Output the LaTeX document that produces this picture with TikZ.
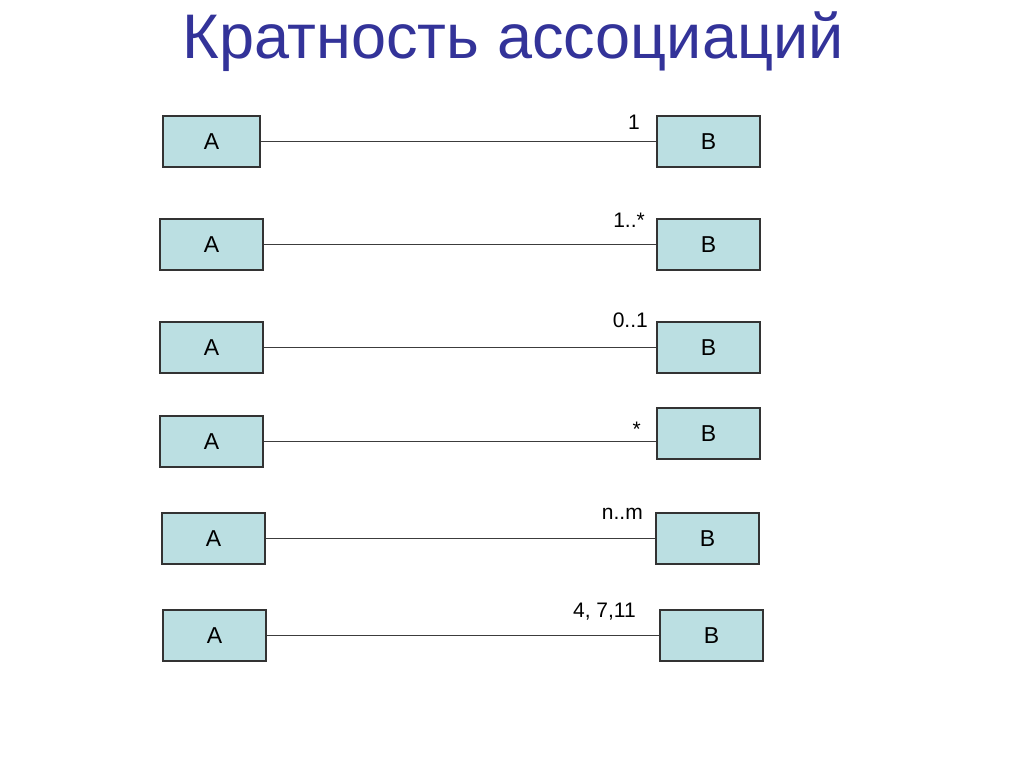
\documentclass[tikz,border=0pt]{standalone}
\usepackage{fontspec}
\setmainfont{Liberation Sans}
\usepackage{xcolor}
\definecolor{titleBlue}{RGB}{51,51,153}
\definecolor{boxFill}{RGB}{187,223,226}
\definecolor{boxLine}{RGB}{51,51,51}
\definecolor{assocLine}{RGB}{60,60,60}

\begin{document}
\begin{tikzpicture}[x=1pt,y=-1pt]
% define the looks
\tikzset{classbox/.style={draw=boxLine,fill=boxFill,line width=1.2pt,inner sep=0pt,
        minimum height=51pt,font=\fontsize{23}{27}\selectfont}}
\tikzset{assoc/.style={draw=assocLine,line width=1.3pt}}
\tikzset{mult/.style={anchor=base east,inner sep=0pt,font=\fontsize{21}{25}\selectfont}}

%% CONFIG
\def\widthB{103pt}

\useasboundingbox (0,0) rectangle (1024,767);

% Title
\node [anchor=base,text=titleBlue,font=\fontsize{63}{70}\selectfont] (title) at (513,59) {Кратность ассоциаций};

% Draw the rows: A -- B with multiplicity
% i / A centre / A width / B centre / label position / label
\foreach \i/\ax/\ay/\aw/\bx/\by/\lx/\ly/\lab in {%
    1/211.5/141.5/97/708.5/141.5/640/130/1,
    2/211.5/244.5/103/708.5/244.5/645/228/1..*,
    3/211.5/347.5/103/708.5/347.5/648/327/0..1,
    4/211.5/441.5/103/708.5/433.5/641/436/*,
    5/213.5/538.5/103/707.5/538.5/643/519/n..m,
    6/214.5/635.5/103/711.5/635.5/636/617/{4, 7,11}}{
    \node [classbox,minimum width=\aw pt] (a\i) at (\ax,\ay) {A};
    \node [classbox,minimum width=\widthB] (b\i) at (\bx,\by) {B};
    \draw [assoc] (a\i.east) -- (a\i.east -| b\i.west);
    \node [mult] (m\i) at (\lx,\ly) {\lab};
}
\end{tikzpicture}
\end{document}
